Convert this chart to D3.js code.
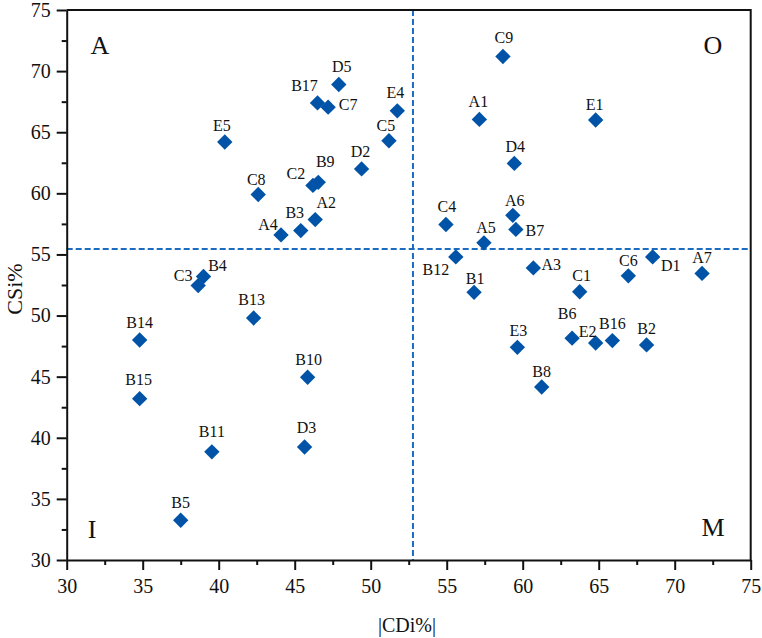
<!DOCTYPE html>
<html>
<head>
<meta charset="utf-8">
<script src="https://cdn.jsdelivr.net/npm/d3@7"></script>
<style>
  body { margin: 0; background: #fff; }
  svg text { font-family: "Liberation Serif", "Tinos", "DejaVu Serif", serif; fill: #111; }
</style>
</head>
<body>
<script>
// sample names and values
var names = ["D5","B17","C7","E5","C5","E4","D2","B9","C2","C8","A2","B3","A4","B4","C3","B13",
             "B14","B10","B15","B11","D3","B5",
             "C9","A1","E1","D4","C4","A6","B7","A5","B12","A3","B1","C1","C6","D1","A7",
             "E3","B6","E2","B16","B2","B8"];
var cdi = [47.9,46.5,47.2,40.4,51.2,51.75,49.4,46.55,46.2,42.6,46.35,45.4,44.1,39.0,38.65,42.3,
           34.8,45.85,34.8,39.55,45.65,37.5,
           58.7,57.15,64.8,59.45,54.95,59.35,59.55,57.45,55.6,60.7,56.8,63.75,66.95,68.55,71.8,
           59.65,63.25,64.8,65.9,68.15,61.25];
var csi = [68.9,67.4,67.05,64.2,64.3,66.75,62.0,60.9,60.65,59.9,57.85,56.95,56.6,53.2,52.45,49.8,
           48.0,44.95,43.2,38.85,39.25,33.25,
           71.2,66.05,66.0,62.45,57.45,58.2,57.05,55.95,54.8,53.9,51.9,51.95,53.25,54.8,53.45,
           47.4,48.15,47.75,47.95,47.6,44.15];

var xTicks = [30,35,40,45,50,55,60,65,70,75];
var yTicks = [30,35,40,45,50,55,60,65,70,75];
var xSplit = 52.78; // vertical dashed line
var ySplit = 55.45; // horizontal dashed line
var quadrants = ["A","O","I","M"];

// label placement (px offsets of the label centre from the marker)
var labelShift = {
  D5:[3,-18], B17:[-13,-17], C7:[20,-3], E5:[-3,-17], C5:[-3,-15], E4:[-2,-18], D2:[-1,-17],
  B9:[7,-21], C2:[-17,-12], C8:[-2,-15], A2:[11,-17], B3:[-6,-18], A4:[-13,-10], B4:[14,-11],
  C3:[-15,-10], B13:[-2,-19], B14:[0,-18], B10:[1,-18], B15:[-1,-19], B11:[0,-20], D3:[2,-19],
  B5:[0,-18], C9:[1,-19], A1:[-1,-18], E1:[-1,-16], D4:[1,-17], C4:[1,-18], A6:[2,-15],
  B7:[19,1], A5:[2,-15], B12:[-20,13], A3:[18,-3], B1:[1,-14], C1:[2,-16], C6:[0,-15],
  D1:[18,9], A7:[0,-16], E3:[1,-17], B6:[-5,-25], E2:[-8,-12], B16:[0,-17], B2:[0,-16], B8:[0,-16]
};

var W = 762, H = 638;
var plot = { left: 66.7, right: 750.7, top: 10, bottom: 560 };
var serif = '"Liberation Serif", "Tinos", "DejaVu Serif", serif';
var markColor = "#0053a6";
var dashColor = "#1b6cc0";

var svg = d3.select("body").append("svg")
  .attr("width", W)
  .attr("height", H)
  .attr("font-family", serif);

var x = d3.scaleLinear().domain([30, 75]).range([plot.left, plot.right]);
var y = d3.scaleLinear().domain([30, 75]).range([plot.bottom, plot.top]);


function drawDashes() {
  svg.append("line")
    .attr("x1", x(xSplit)).attr("x2", x(xSplit))
    .attr("y1", y(75)).attr("y2", y(30))
    .attr("stroke", dashColor).attr("stroke-width", 2)
    .attr("stroke-dasharray", "6,3");
  svg.append("line")
    .attr("x1", x(30)).attr("x2", x(75))
    .attr("y1", y(ySplit)).attr("y2", y(ySplit))
    .attr("stroke", dashColor).attr("stroke-width", 2)
    .attr("stroke-dasharray", "6,3");
}

function drawAxes() {
  var minorX = d3.range(32.5, 75, 5);
  var minorY = d3.range(32.5, 75, 5);

  svg.append("g").attr("transform", "translate(0," + plot.bottom + ")")
    .call(d3.axisBottom(x).tickValues(xTicks).tickSize(10).tickPadding(9).tickSizeOuter(0));
  svg.append("g").attr("transform", "translate(0," + plot.bottom + ")")
    .call(d3.axisBottom(x).tickValues(minorX).tickSize(5).tickFormat("").tickSizeOuter(0))
    .select(".domain").remove();

  svg.append("g").attr("transform", "translate(" + plot.left + ",0)")
    .call(d3.axisLeft(y).tickValues(yTicks).tickSize(10).tickPadding(6).tickSizeOuter(0));
  svg.append("g").attr("transform", "translate(" + plot.left + ",0)")
    .call(d3.axisLeft(y).tickValues(minorY).tickSize(5).tickFormat("").tickSizeOuter(0))
    .select(".domain").remove();

  svg.selectAll("g").attr("font-family", serif);
  svg.selectAll(".tick line").attr("stroke", "#111").attr("stroke-width", 2);
  svg.selectAll(".domain").attr("stroke", "#111").attr("stroke-width", 2);
  svg.selectAll(".tick text").attr("font-size", 20).attr("fill", "#111");

  // top and right frame
  svg.append("path")
    .attr("d", "M" + x(30) + "," + y(75) + "H" + x(75) + "V" + y(30))
    .attr("fill", "none").attr("stroke", "#111").attr("stroke-width", 2);

  svg.append("text")
    .attr("x", 407).attr("y", 632)
    .attr("text-anchor", "middle").attr("font-size", 20)
    .text("|CDi%|");
  svg.append("text")
    .attr("transform", "translate(22,289) rotate(-90)")
    .attr("text-anchor", "middle").attr("font-size", 22)
    .text("CSi%");
}

function drawQuadrants() {
  var spots = [[100, 54], [713, 54], [92, 538], [713, 536]];
  svg.selectAll("text.quad")
    .data(quadrants)
    .join("text")
    .attr("class", "quad")
    .attr("x", function(d, i) { return spots[i][0]; })
    .attr("y", function(d, i) { return spots[i][1]; })
    .attr("text-anchor", "middle")
    .attr("font-size", 26)
    .text(function(d) { return d; });
}

function drawPoints() {
  var diamond = d3.symbol().type(d3.symbolSquare).size(118);
  var pts = svg.append("g");
  pts.selectAll("path")
    .data(names)
    .join("path")
    .attr("d", diamond)
    .attr("transform", function(d, i) { return "translate(" + x(cdi[i]) + "," + y(csi[i]) + ") rotate(45)"; })
    .attr("fill", markColor);

  pts.selectAll("text")
    .data(names)
    .join("text")
    .attr("x", function(d, i) { return x(cdi[i]) + labelShift[d][0]; })
    .attr("y", function(d, i) { return y(csi[i]) + labelShift[d][1]; })
    .attr("text-anchor", "middle")
    .attr("dominant-baseline", "central")
    .attr("font-size", 16)
    .text(function(d) { return d; });
}

drawDashes();
drawAxes();
drawQuadrants();
drawPoints();
</script>
</body>
</html>
